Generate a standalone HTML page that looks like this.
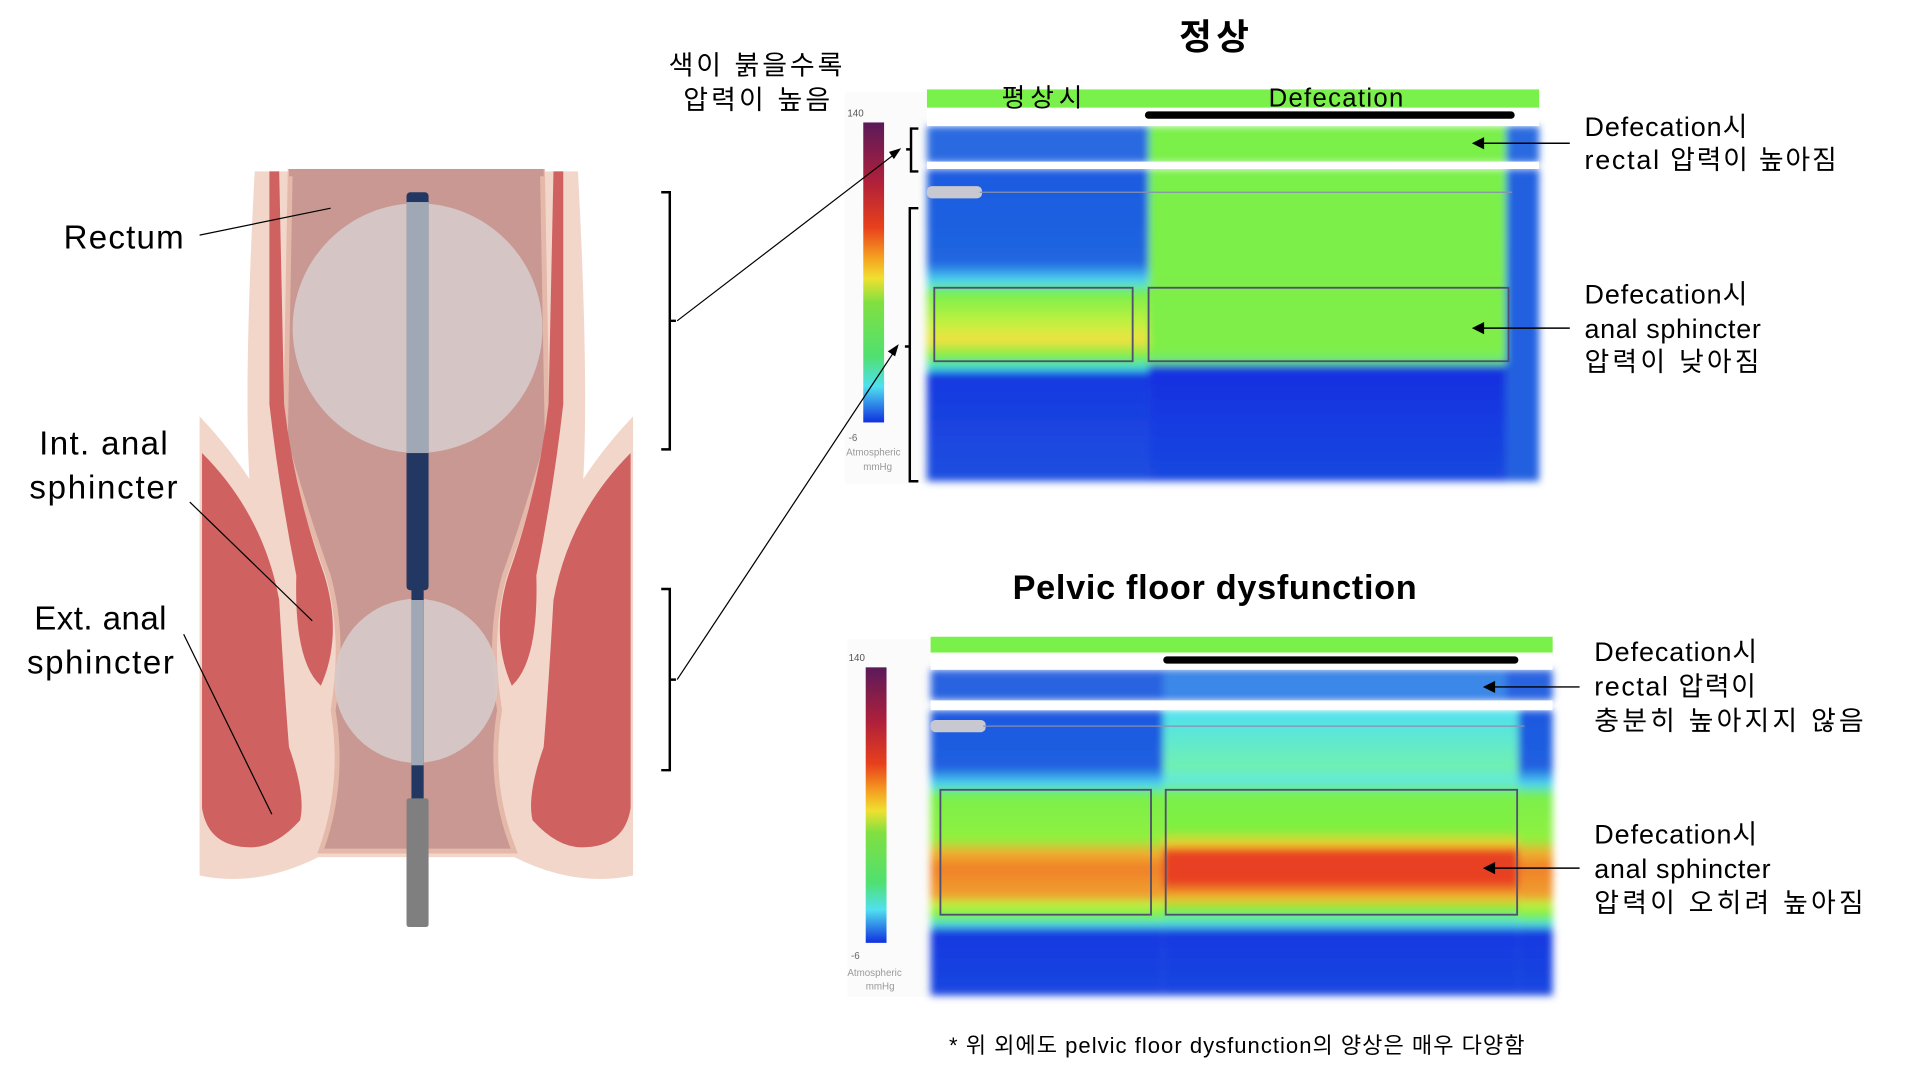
<!DOCTYPE html>
<html><head><meta charset="utf-8"><style>
html,body{margin:0;padding:0;background:#fff;width:1920px;height:1080px;overflow:hidden}
svg{display:block}
text{font-family:"Liberation Sans","Noto Sans CJK KR",sans-serif;fill:#000}
</style></head><body>
<svg width="1920" height="1080" viewBox="0 0 1568 882" preserveAspectRatio="none" xmlns="http://www.w3.org/2000/svg">
<defs>
<filter id="bl" x="-5%" y="-5%" width="110%" height="110%"><feGaussianBlur stdDeviation="3"/></filter>
<linearGradient id="cb" x1="0" y1="0" x2="0" y2="1">
<stop offset="0" stop-color="#5a1a5a"/><stop offset="0.2" stop-color="#b0203a"/><stop offset="0.35" stop-color="#e8401c"/><stop offset="0.45" stop-color="#f5a020"/><stop offset="0.52" stop-color="#f0e030"/><stop offset="0.6" stop-color="#80e040"/><stop offset="0.78" stop-color="#50e070"/><stop offset="0.88" stop-color="#50e0f0"/><stop offset="1" stop-color="#1030e0"/></linearGradient>
<linearGradient id="u1" x1="0" y1="0" x2="0" y2="1">
<stop offset="0" stop-color="#1e5ae0"/><stop offset="0.3" stop-color="#2066e0"/><stop offset="0.36" stop-color="#50d8f0"/><stop offset="0.4" stop-color="#7af04a"/><stop offset="0.5" stop-color="#c8f040"/><stop offset="0.55" stop-color="#f0e040"/><stop offset="0.6" stop-color="#7af04a"/><stop offset="0.64" stop-color="#40d8e0"/><stop offset="0.66" stop-color="#1538e0"/><stop offset="1" stop-color="#2050e0"/></linearGradient>
<linearGradient id="u2" x1="0" y1="0" x2="0" y2="1">
<stop offset="0" stop-color="#7af04a"/><stop offset="0.58" stop-color="#80ee48"/><stop offset="0.62" stop-color="#6ae880"/><stop offset="0.64" stop-color="#1430e0"/><stop offset="1" stop-color="#1a48e0"/></linearGradient>
<linearGradient id="l1" x1="0" y1="0" x2="0" y2="1">
<stop offset="0" stop-color="#1e58e0"/><stop offset="0.2" stop-color="#2060e0"/><stop offset="0.26" stop-color="#50d8f0"/><stop offset="0.3" stop-color="#7af04a"/><stop offset="0.45" stop-color="#90f040"/><stop offset="0.5" stop-color="#f0b030"/><stop offset="0.55" stop-color="#f08028"/><stop offset="0.65" stop-color="#f0a030"/><stop offset="0.68" stop-color="#c0f040"/><stop offset="0.72" stop-color="#7af04a"/><stop offset="0.75" stop-color="#50e0e0"/><stop offset="0.78" stop-color="#1838e0"/><stop offset="1" stop-color="#1a48e0"/></linearGradient>
<linearGradient id="l2" x1="0" y1="0" x2="0" y2="1">
<stop offset="0" stop-color="#50e0f0"/><stop offset="0.2" stop-color="#70f0b0"/><stop offset="0.25" stop-color="#60e8e0"/><stop offset="0.3" stop-color="#7af04a"/><stop offset="0.42" stop-color="#80f040"/><stop offset="0.47" stop-color="#f0d030"/><stop offset="0.5" stop-color="#e84020"/><stop offset="0.6" stop-color="#e84020"/><stop offset="0.66" stop-color="#f0c030"/><stop offset="0.7" stop-color="#80f040"/><stop offset="0.75" stop-color="#50e0e0"/><stop offset="0.78" stop-color="#1838e0"/><stop offset="1" stop-color="#1a48e0"/></linearGradient>
</defs>

<!-- anatomy -->
<g>
<path d="M163 340 Q220 400 240 470 Q255 540 262 600 Q285 660 260 700 Q210 725 163 715Z" fill="#f2d6ca"/>
<path d="M517 340 Q460 400 440 470 Q425 540 418 600 Q395 660 420 700 Q470 725 517 715Z" fill="#f2d6ca"/>
<path d="M208 140 L472 140 Q482 330 475 410 L460 700 L220 700 L205 410 Q198 330 208 140Z" fill="#f2d6ca"/>
<path d="M237 140 L443 140 L447 360 Q430 420 412 470 Q398 520 408 580 Q398 640 420 695 L262 695 Q282 640 272 580 Q282 520 268 470 Q250 420 233 360Z" fill="#c99893" stroke="#e4b9aa" stroke-width="4"/>
<rect x="236" y="138" width="208" height="6" fill="#c99893"/>
<path d="M220 140 L228 140 L232 330 Q240 400 265 470 Q280 520 262 560 Q240 540 242 470 Q228 400 220 330Z" fill="#cf6161"/>
<path d="M452 140 L460 140 L460 330 Q452 400 438 470 Q440 540 418 560 Q400 520 415 470 Q440 400 448 330Z" fill="#cf6161"/>
<path d="M165 370 Q215 420 228 490 Q232 560 236 610 Q250 650 245 670 Q225 692 205 692 Q170 692 165 660Z" fill="#cf6161"/>
<path d="M515 370 Q465 420 452 490 Q448 560 444 610 Q430 650 435 670 Q455 692 475 692 Q510 692 515 660Z" fill="#cf6161"/>
<circle cx="341" cy="268" r="102" fill="#d6c7c6" opacity="0.95"/>
<circle cx="340" cy="556" r="67" fill="#d6c7c6" opacity="0.95"/>
<rect x="332" y="157" width="18" height="325" rx="3" fill="#223863"/>
<rect x="332" y="165" width="18" height="205" fill="#a0a8b6"/>
<rect x="336" y="480" width="10" height="175" fill="#223863"/>
<rect x="336" y="490" width="10" height="135" fill="#a0a8b6"/>
<rect x="332" y="652" width="18" height="105" rx="2" fill="#7f7f7f"/>
</g>
<text x="52" y="203" font-size="27" textLength="98">Rectum</text>
<line x1="163" y1="192" x2="270" y2="170" stroke="#000" stroke-width="1"/>
<text x="32" y="371" font-size="27" textLength="105">Int. anal</text>
<text x="24" y="407" font-size="27" textLength="121">sphincter</text>
<line x1="155" y1="410" x2="255" y2="507" stroke="#000" stroke-width="1"/>
<text x="28" y="514" font-size="27" textLength="108">Ext. anal</text>
<text x="22" y="550" font-size="27" textLength="120">sphincter</text>
<line x1="150" y1="518" x2="222" y2="665" stroke="#000" stroke-width="1"/>

<text x="546" y="61" font-size="22" textLength="142">색이 붉을수록</text>
<text x="558" y="89" font-size="22" textLength="120">압력이 높음</text>
<text x="963" y="40" font-size="29" font-weight="bold" textLength="57">정상</text>
<text x="827" y="489" font-size="28" font-weight="bold" textLength="330">Pelvic floor dysfunction</text>

<!-- upper heatmap -->
<rect x="690" y="75" width="67" height="320" fill="#fbfbfb"/>
<rect x="705" y="100" width="17" height="245" fill="url(#cb)"/>
<g font-size="8"><text x="692" y="95" style="fill:#555">140</text><text x="693" y="360" style="fill:#666">-6</text><text x="691" y="372" style="fill:#999">Atmospheric</text><text x="705" y="384" style="fill:#999">mmHg</text></g>
<g filter="url(#bl)">
<rect x="757" y="138" width="181" height="255" fill="url(#u1)"/>
<rect x="938" y="138" width="292" height="255" fill="url(#u2)"/>
<rect x="1230" y="138" width="27" height="255" fill="#2060e0"/>
<rect x="757" y="103" width="181" height="30" fill="#2a6ae0"/>
<rect x="938" y="103" width="292" height="30" fill="#7af04a"/>
<rect x="1230" y="103" width="27" height="30" fill="#2a6ae0"/>
</g>
<rect x="757" y="73" width="500" height="15" fill="#7af04a"/>
<rect x="757" y="88" width="500" height="15" fill="#fff"/>
<rect x="935" y="91" width="302" height="6" rx="3" fill="#000"/>
<rect x="757" y="132" width="500" height="6" fill="#fff"/>
<rect x="757" y="152" width="45" height="10" rx="4" fill="#c8c8d0"/>
<line x1="800" y1="157" x2="1235" y2="157" stroke="#8890b0" stroke-width="1"/>
<g fill="none" stroke="#505070" stroke-width="1.5">
<rect x="763" y="235" width="162" height="60"/><rect x="938" y="235" width="294" height="60"/></g>
<text x="818" y="87" font-size="21" textLength="66">평상시</text>
<text x="1036" y="87" font-size="21" textLength="110">Defecation</text>

<!-- lower heatmap -->
<rect x="692" y="522" width="68" height="292" fill="#fbfbfb"/>
<rect x="707" y="545" width="17" height="225" fill="url(#cb)"/>
<g font-size="8"><text x="693" y="540" style="fill:#555">140</text><text x="695" y="783" style="fill:#666">-6</text><text x="692" y="797" style="fill:#999">Atmospheric</text><text x="707" y="808" style="fill:#999">mmHg</text></g>
<g filter="url(#bl)">
<rect x="760" y="580" width="190" height="233" fill="url(#l1)"/>
<rect x="950" y="580" width="290" height="233" fill="url(#l2)"/>
<rect x="1240" y="580" width="28" height="233" fill="url(#l1)"/>
<rect x="760" y="547" width="508" height="25" fill="#2a64e0"/>
<rect x="950" y="549" width="280" height="21" fill="#3a88e8"/>
</g>
<rect x="760" y="520" width="508" height="13" fill="#7af04a"/>
<rect x="760" y="533" width="508" height="14" fill="#fff"/>
<rect x="950" y="536" width="290" height="6" rx="3" fill="#000"/>
<rect x="760" y="572" width="508" height="8" fill="#fff"/>
<rect x="760" y="588" width="45" height="10" rx="4" fill="#c8c8d0"/>
<line x1="803" y1="593" x2="1245" y2="593" stroke="#8890b0" stroke-width="1"/>
<g fill="none" stroke="#505070" stroke-width="1.5">
<rect x="768" y="645" width="172" height="102"/><rect x="952" y="645" width="287" height="102"/></g>

<!-- brackets -->
<g fill="none" stroke="#000" stroke-width="2">
<path d="M540 157 H547 V367 H540 M547 262 H552"/>
<path d="M540 481 H547 V629 H540 M547 555 H552"/>
<path d="M750 105 H744 V140 H750 M744 122 H740"/>
<path d="M750 170 H743 V393 H750 M743 283 H739"/>
</g>
<g stroke="#000" stroke-width="1">
<line x1="553" y1="262" x2="733" y2="124"/>
<line x1="553" y1="555" x2="731" y2="286"/>
</g>
<polygon points="736,121 726,124 730,130" fill="#000"/>
<polygon points="734,281 725,287 731,291" fill="#000"/>

<!-- annotations -->
<g font-size="22">
<text x="1294" y="111" textLength="133">Defecation시</text><text x="1294" y="138" textLength="206">rectal 압력이 높아짐</text>
<text x="1294" y="248" textLength="133">Defecation시</text><text x="1294" y="276" textLength="144">anal sphincter</text><text x="1294" y="303" textLength="143">압력이 낮아짐</text>
<text x="1302" y="540" textLength="133">Defecation시</text><text x="1302" y="568" textLength="132">rectal 압력이</text><text x="1302" y="596" textLength="220">충분히 높아지지 않음</text>
<text x="1302" y="689" textLength="133">Defecation시</text><text x="1302" y="717" textLength="144">anal sphincter</text><text x="1302" y="745" textLength="220">압력이 오히려 높아짐</text>
</g>
<g stroke="#000" stroke-width="1.2">
<line x1="1282" y1="117" x2="1206" y2="117"/><line x1="1282" y1="268" x2="1206" y2="268"/>
<line x1="1290" y1="561" x2="1215" y2="561"/><line x1="1290" y1="709" x2="1215" y2="709"/>
</g>
<g fill="#000">
<polygon points="1202,117 1212,112 1212,122"/><polygon points="1202,268 1212,263 1212,273"/>
<polygon points="1211,561 1221,556 1221,566"/><polygon points="1211,709 1221,704 1221,714"/>
</g>
<text x="775" y="860" font-size="18" textLength="470">* 위 외에도 pelvic floor dysfunction의 양상은 매우 다양함</text>
</svg>
</body></html>
